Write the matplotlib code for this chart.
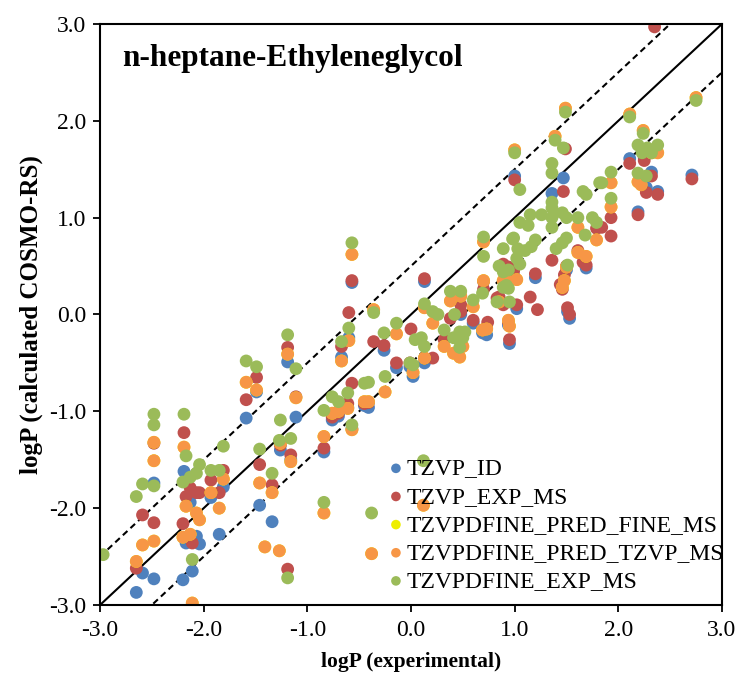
import numpy as np
import matplotlib
matplotlib.use('Agg')
import matplotlib.pyplot as plt

nan = np.nan

# experimental logP (shared by all series)
x_exp = [-2.97, -2.65, -2.59, -2.48, -2.48, -2.48, -2.19, -2.17, -2.20, -2.11,
         -2.13, -2.07, -2.04, -1.93, -1.85, -1.81, -1.59, -1.49, -1.46, -1.34,
         -1.41, -1.27, -1.26, -1.19, -1.19, -1.16, -1.11, -0.84, -0.84, -0.76,
         -0.70, -0.67, -0.61, -0.60, -0.57, -0.57, -0.45, -0.41, -0.38, -0.36,
         -0.26, -0.25, -0.14, -0.01, 0.00, 0.02, 0.04, 0.10, 0.12, 0.13,
         0.13, 0.21, 0.26, 0.32, 0.38, 0.41, 0.42, 0.47, 0.47, 0.48,
         0.48, 0.50, 0.52, 0.60, 0.69, 0.70, 0.70, 0.73, 0.74, 0.83,
         0.85, 0.89, 0.89, 0.89, 0.92, 0.94, 0.94, 0.95, 0.98, 0.99,
         1.00, 1.02, 1.03, 1.05, 1.05, 1.05, 1.10, 1.13, 1.15, 1.16,
         1.20, 1.22, 1.26, 1.36, 1.36, 1.36, 1.36, 1.36, 1.36, 1.39,
         1.40, 1.44, 1.46, 1.46, 1.47, 1.48, 1.49, 1.50, 1.50, 1.51,
         1.53, 1.61, 1.61, 1.66, 1.68, 1.69, 1.75, 1.79, 1.82, 1.84,
         1.93, 1.93, 2.11, 2.19, 2.19, 2.22, 2.23, 2.24, 2.25, 2.27,
         2.28, 2.32, 2.35, 2.38, 2.71, 2.75]

# calculated logP, COSMO-RS
y_tzvp_id = [nan, -2.87, -2.67, -2.73, -1.74, nan, -1.62, -2.36, -2.74, -2.65,
             -1.94, -2.29, -2.37, -1.89, -2.27, -1.78, -1.07, -0.80, -1.97, -2.14,
             nan, nan, -1.40, -0.49, nan, -1.50, -1.06, -1.42, nan, -1.09,
             -1.05, -0.44, -0.96, -0.24, -1.18, 0.33, -0.94, -0.96, nan, nan,
             -0.37, nan, -0.55, -0.54, nan, -0.64, nan, nan, nan, 0.34,
             -0.50, nan, nan, nan, nan, nan, nan, nan, nan, 0.00,
             nan, nan, nan, -0.09, -0.19, nan, nan, -0.21, nan, nan,
             0.15, 0.48, nan, nan, nan, 0.45, -0.11, -0.30, nan, 0.40,
             1.43, 0.06, nan, nan, nan, nan, nan, nan, nan, nan,
             0.38, nan, nan, 1.25, nan, nan, nan, nan, nan, nan,
             nan, nan, nan, nan, 1.41, nan, nan, 0.46, nan, 0.03,
             -0.04, nan, nan, nan, nan, 0.48, nan, nan, nan, nan,
             nan, nan, 1.61, 1.06, nan, nan, nan, nan, 1.62, 1.31,
             nan, 1.47, nan, 1.27, 1.44, nan]

y_tzvp_exp = [nan, -2.62, -2.07, -2.15, -1.33, nan, -1.22, -1.88, -2.16, -2.36,
              -1.79, -1.84, -1.84, -1.71, -1.84, -1.61, -0.88, -0.65, -1.55, -1.76,
              nan, nan, -1.35, -0.34, -2.63, -1.45, -0.85, -1.38, nan, -1.06,
              -1.02, -0.33, -0.92, 0.02, -0.71, 0.35, -0.92, -0.91, nan, -0.28,
              -0.32, nan, -0.50, -0.50, -0.15, nan, nan, nan, nan, 0.37,
              -0.45, -0.45, nan, -0.26, -0.04, nan, nan, nan, nan, 0.03,
              0.10, nan, nan, -0.06, -0.16, 0.34, 0.26, -0.14, -0.08, 0.17,
              0.18, 0.52, 0.10, nan, nan, 0.49, -0.08, -0.26, nan, 0.45,
              1.39, 0.10, nan, nan, nan, nan, nan, nan, 0.18, nan,
              0.42, 0.05, nan, 0.56, nan, nan, nan, nan, nan, nan,
              nan, 0.31, 0.26, nan, 1.27, 0.41, 1.71, 0.50, nan, 0.07,
              0.00, 0.66, nan, 0.54, nan, 0.51, nan, 0.89, nan, 0.90,
              1.00, 0.81, 1.56, 1.03, nan, nan, nan, nan, 1.59, 1.26,
              nan, 1.43, 2.97, 1.24, 1.40, nan]

y_pred_tzvp = [nan, -2.55, -2.38, -2.34, -1.32, -1.51, -1.37, -1.98, -2.30, -2.98,
               -2.27, -2.05, -2.12, -1.84, -2.00, -1.70, -0.70, -0.78, -1.74, -1.84,
               -2.40, -2.44, -1.33, -0.41, nan, -1.52, -0.86, -1.26, -2.05, -1.02,
               -1.00, -0.48, -0.97, -0.27, -1.19, 0.62, -0.90, -0.90, -2.47, 0.05,
               nan, -0.80, -0.20, nan, nan, -0.60, nan, nan, -1.97, 0.07,
               -0.45, -0.09, nan, -0.33, 0.14, -0.40, nan, -0.44, nan, 0.19,
               nan, -0.33, nan, 0.08, -0.16, 0.75, 0.35, -0.15, nan, nan,
               0.13, 0.35, nan, nan, 0.36, nan, -0.06, -0.12, nan, nan,
               1.70, 0.36, nan, nan, nan, nan, nan, nan, nan, nan,
               nan, nan, nan, nan, nan, nan, nan, nan, nan, 1.84,
               nan, nan, 0.28, nan, nan, 0.35, 2.13, 0.49, nan, nan,
               nan, 0.64, 0.90, nan, nan, 0.60, nan, 0.77, nan, nan,
               1.36, 1.11, 2.07, 1.37, nan, 1.34, nan, 1.90, nan, nan,
               nan, 1.67, nan, 1.67, nan, 2.24]

# PRED_FINE points sit under the PRED_TZVP ones, none visible
y_pred_fine = list(y_pred_tzvp)

y_fine_exp = [-2.48, -1.88, -1.75, -1.77, -1.14, -1.03, -1.03, -1.46, -1.73, -2.53,
              -1.68, -1.64, -1.55, -1.61, -1.61, -1.36, -0.48, -0.54, -1.39, -1.64,
              nan, -1.30, -1.09, -0.21, -2.72, -1.28, -0.56, -0.99, -1.94, -0.85,
              -0.90, -0.28, -0.81, -0.14, -1.14, 0.74, -0.71, -0.70, -2.05, 0.02,
              -0.19, -0.64, -0.09, -0.50, nan, -0.52, -0.26, -0.24, -1.51, 0.11,
              -0.33, 0.03, 0.00, -0.16, 0.24, -0.24, 0.00, -0.18, -0.34, 0.24,
              nan, -0.24, -0.18, 0.15, 0.22, 0.80, 0.60, nan, nan, 0.13,
              0.50, 0.44, 0.68, 0.28, 0.30, 0.46, 0.27, 0.13, 0.78, 0.79,
              1.67, 0.58, 0.68, 1.29, 0.95, 0.52, 0.66, 0.92, 1.03, 0.70,
              0.77, nan, 1.03, 1.46, 1.56, 1.16, 1.10, 1.00, 0.90, 1.80,
              0.68, nan, 0.74, 1.05, 1.72, nan, 2.09, 0.79, 1.00, 0.51,
              nan, 1.00, nan, 1.27, 0.82, 1.24, 1.00, 0.95, 1.36, 1.36,
              1.47, 1.20, 2.04, 1.46, 1.75, nan, 1.67, 1.87, nan, 1.43,
              1.72, 1.67, nan, 1.75, nan, 2.21]

plt.rcParams['font.family'] = 'Liberation Serif'

fig = plt.figure(figsize=(7.42, 6.81), dpi=100)
ax = fig.add_axes([0.1348, 0.1116, 0.8382, 0.8532])

# y=x and +/-0.5 lines
diag = np.array([-3.0, 3.0])
ax.plot(diag, diag, color='black', lw=1.5, zorder=1)
ax.plot(diag, diag + 0.5, color='black', lw=1.5, ls=(0, (3, 2)), zorder=1)
ax.plot(diag, diag - 0.5, color='black', lw=1.5, ls=(0, (3, 2)), zorder=1)

series = [
    (y_tzvp_id, '#4F81BD', 'TZVP_ID'),
    (y_tzvp_exp, '#C0504D', 'TZVP_EXP_MS'),
    (y_pred_fine, '#EEEE00', 'TZVPDFINE_PRED_FINE_MS'),
    (y_pred_tzvp, '#F79646', 'TZVPDFINE_PRED_TZVP_MS'),
    (y_fine_exp, '#9BBB59', 'TZVPDFINE_EXP_MS'),
]
for y, col, lab in series:
    ax.scatter(x_exp, y, s=85, color=col, edgecolors='none', label=lab, zorder=2)

ax.set_xlim(-3, 3)
ax.set_ylim(-3, 3)
ticks = np.arange(-3, 3.1, 1.0)
ax.set_xticks(ticks)
ax.set_yticks(ticks)
ax.set_xticklabels(['%.1f' % t for t in ticks])
ax.set_yticklabels(['%.1f' % t for t in ticks])
ax.tick_params(direction='out', length=5, width=1.3, labelsize=17)
ax.tick_params(axis='x', pad=6)
ax.tick_params(axis='y', pad=5)
for sp in ax.spines.values():
    sp.set_linewidth(1.5)

ax.set_xlabel('logP (experimental)', fontsize=15.5, fontweight='bold', labelpad=8)
ax.set_ylabel('logP (calculated COSMO-RS)', fontsize=18, fontweight='bold', labelpad=4)

ax.text(0.035, 0.941, 'n-heptane-Ethyleneglycol', transform=ax.transAxes,
        fontsize=22.5, fontweight='bold', va='center')

ax.legend(loc='upper left', bbox_to_anchor=(0.4625, 0.253), frameon=False,
          fontsize=17, markerscale=0.75, handletextpad=0.12, labelspacing=0.28,
          handlelength=0.7, borderpad=0, borderaxespad=0)

fig.savefig('out.png', dpi=100)
